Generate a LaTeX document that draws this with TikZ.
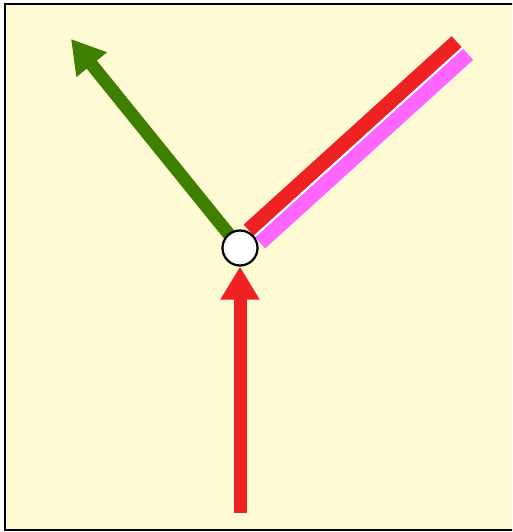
\documentclass[tikz,border=0pt]{standalone}
\usetikzlibrary{arrows.meta,calc}
\definecolor{bgyellow}{HTML}{FDFAD4}
\definecolor{myred}{HTML}{EE2222}
\definecolor{mygreen}{HTML}{3F7F00}
\definecolor{mymagenta}{HTML}{FF66FF}
\begin{document}
\begin{tikzpicture}[x=1pt,y=-1pt,
  bigarrow/.style={line width=13pt,-{Triangle[length=33pt,width=37pt]}},
  band/.style={line width=15pt},
  joint/.style={circle,draw=black,fill=white,line width=2.2pt,minimum size=35pt,inner sep=0pt}]
\useasboundingbox (0,0) rectangle (512,532);
\begin{scope}
\clip (0,0) rectangle (512,532);
\draw[fill=bgyellow,line width=2.5pt] (5,4) rectangle (516,530);
\end{scope}
\coordinate (o) at (240,248);
\coordinate (gtip) at (71,39);
\coordinate (rbot) at (240,512.7);
\coordinate (r1) at (248.7,230.2);
\coordinate (r2) at (456.7,41.7);
\coordinate (m1) at (260.1,242.8);
\coordinate (m2) at (468.1,54.3);
\draw[bigarrow,draw=mygreen,fill=mygreen] (o) -- (gtip);
\draw[band,draw=mymagenta] (m1) -- (m2);
\draw[band,draw=myred] (r1) -- (r2);
\draw[line width=2pt,draw=white] ($(r1)!0.5!(m1)$) -- ($(r2)!0.5!(m2)$);
\node[joint] (c) at (o) {};
\draw[bigarrow,draw=myred,fill=myred] (rbot) -- (c.south);
\end{tikzpicture}
\end{document}
